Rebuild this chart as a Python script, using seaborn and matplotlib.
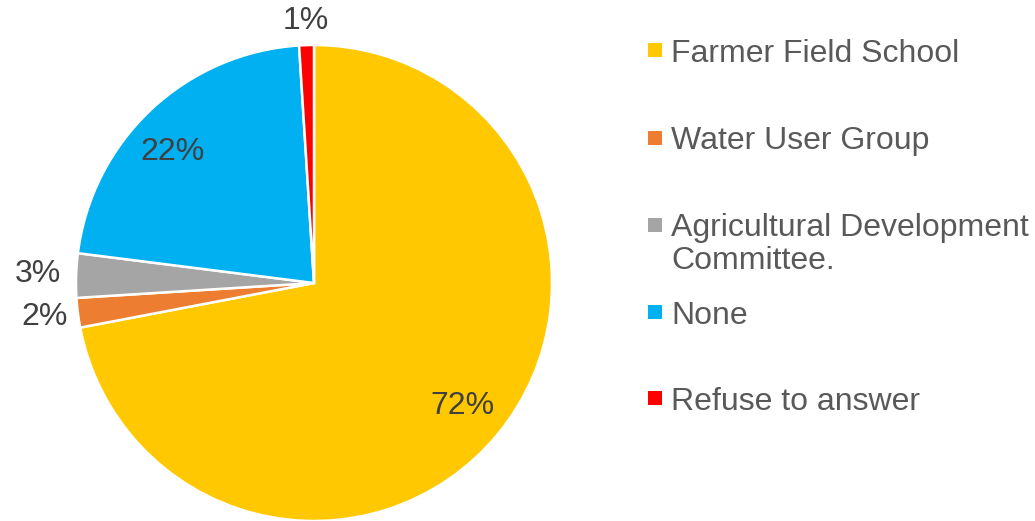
import matplotlib
matplotlib.use("Agg")
import matplotlib.pyplot as plt
import seaborn as sns
from matplotlib.patches import Rectangle
import numpy as np

categories = ["Farmer Field School", "Water User Group",
              "Agricultural Development\nCommittee.", "None", "Refuse to answer"]
values = [72, 2, 3, 22, 1]
colors = ["#FFC800", "#ED7D31", "#A5A5A5", "#00B0F0", "#FF0000"]

sns.set_theme(style="white")
plt.rcParams["font.family"] = ["Liberation Sans", "DejaVu Sans"]

W, H = 1035, 521
fig = plt.figure(figsize=(W / 100, H / 100), dpi=100)
fig.patch.set_facecolor("white")

# pie centered at (314, 283) px with radius 238 px
cx, cy, r = 314, 283, 238
ax = fig.add_axes([(cx - r) / W, (H - cy - r) / H, 2 * r / W, 2 * r / H])

wedges, texts, autotexts = ax.pie(
    values, colors=colors, startangle=90, counterclock=False,
    autopct="%1.0f%%", pctdistance=0.81,
    wedgeprops=dict(edgecolor="white", linewidth=1.8),
    textprops=dict(fontsize=23, color="#404040"),
)
ax.set_xlim(-1, 1)
ax.set_ylim(-1, 1)
ax.set_aspect("auto")
ax.axis("off")

# label placement: (distance, angle offset in degrees)
place = {1: (1.14, 0), 2: (1.16, 0), 3: (0.81, 4), 4: (1.10, 0)}
for i, w in enumerate(wedges):
    if i in place:
        d, off = place[i]
        ang = np.deg2rad((w.theta1 + w.theta2) / 2 + off)
        autotexts[i].set_position((d * np.cos(ang), d * np.sin(ang)))

# legend drawn by hand to mimic the spreadsheet layout
leg_y = [50, 138, 225, 312, 398]
for lab, col, y in zip(categories, colors, leg_y):
    fig.patches.append(Rectangle((648 / W, 1 - (y + 7) / H), 14 / W, 14 / H,
                                 transform=fig.transFigure, facecolor=col,
                                 edgecolor="none"))
    if "\n" in lab:
        fig.text(671 / W, 1 - (y - 12) / H, lab, fontsize=23, color="#595959",
                 va="top", ha="left", linespacing=1.12)
    else:
        fig.text(671 / W, 1 - y / H, lab, fontsize=23, color="#595959",
                 va="center_baseline", ha="left")

fig.savefig("out.png", dpi=100)
